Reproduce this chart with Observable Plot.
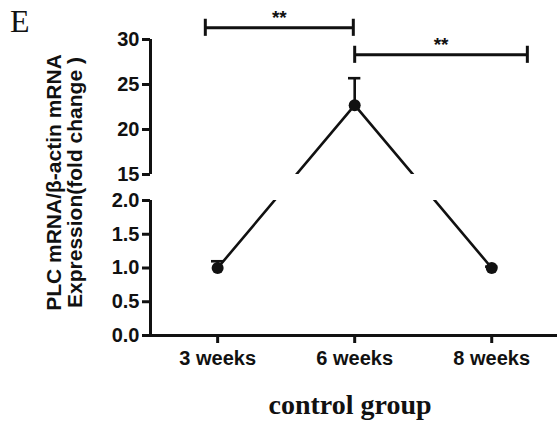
<!DOCTYPE html>
<html>
<head>
<meta charset="utf-8">
<script src="https://cdn.jsdelivr.net/npm/d3@7"></script>
<script src="https://cdn.jsdelivr.net/npm/@observablehq/plot@0.6"></script>
<style>
  html, body { margin: 0; padding: 0; background: #fff; }
  #figure { position: relative; width: 557px; height: 425px; overflow: hidden; }
  #panel-letter {
    position: absolute; left: 10px; top: 5px;
    font: 32px/32px "Liberation Serif", "Times New Roman", serif; color: #111;
  }
  #group-label {
    margin: 11px 0 0 150px; width: 400px; text-align: center;
    font: bold 28px/28px "Liberation Serif", "Times New Roman", serif; color: #111;
  }
</style>
</head>
<body>
<div id="figure">
  <div id="panel-letter">E</div>
  <div id="chart"></div>
  <div id="group-label">control group</div>
</div>
<script>
// PLC mRNA expression (relative to β-actin) in the control group
const categories = ["3 weeks", "6 weeks", "8 weeks"];
const means = [1.0, 22.7, 1.0];
const sems = [0.1, 3.0, 0.02];

// broken y axis: lower panel 0–2, upper panel 15–30
const lowerPanel = [0, 2];
const upperPanel = [15, 30];
const yTicks = [0, 0.5, 1, 1.5, 2, 15, 20, 25, 30];

// significance brackets (x in category index units, y in data units)
const bracketStarts = [-0.09, 1.0];
const bracketEnds = [0.99, 2.26];
const bracketLevels = [31.3, 28.3];
const bracketLabels = ["**", "**"];

const yLabel = "PLC mRNA/β-actin mRNA\nExpression(fold change )";

const points = categories.map((c, i) => ({i, category: c, mean: means[i], sem: sems[i]}));
const brackets = bracketLabels.map((label, k) => ({
  x1: bracketStarts[k], x2: bracketEnds[k], y: bracketLevels[k], label
}));
const panels = [lowerPanel, upperPanel].map(([lo, hi]) => ({lo, hi}));

const width = 557, height = 380;
const marginTop = 39, marginBottom = 45, marginLeft = 150, marginRight = 0;
const frameBottom = height - marginBottom;   // pixel of 0
const panelPx = 135;                         // height of each panel
const gapPx = 26;                            // height of the axis break
const yRange = [frameBottom, frameBottom - panelPx, frameBottom - panelPx - gapPx, marginTop];

const xDomain = [-0.49, 2.48];
const ink = "#111";
const capHalf = 0.045;      // error-bar cap half-width, category units
const bracketTick = 0.95;   // bracket end-tick half-height, data units

const chart = Plot.plot({
  width, height, marginTop, marginBottom, marginLeft, marginRight,
  style: {
    fontFamily: "'Liberation Sans', Arial, sans-serif",
    fontWeight: "bold",
    color: ink,
    background: "white",
    overflow: "visible"
  },
  x: {type: "linear", domain: xDomain},
  y: {type: "linear", domain: [lowerPanel[0], lowerPanel[1], upperPanel[0], upperPanel[1]], range: yRange},
  marks: [
    Plot.line(points, {x: "i", y: "mean", stroke: ink, strokeWidth: 2.6}),
    // blank out the break between the two panels
    Plot.rect([{lo: lowerPanel[1], hi: upperPanel[0]}], {
      x1: xDomain[0] + 0.03, x2: xDomain[1], y1: "lo", y2: "hi", fill: "white"
    }),
    Plot.ruleX(points, {x: "i", y1: "mean", y2: d => d.mean + d.sem, stroke: ink, strokeWidth: 2.6}),
    Plot.ruleY(points, {
      y: d => d.mean + d.sem, x1: d => d.i - capHalf, x2: d => d.i + capHalf,
      stroke: ink, strokeWidth: 2.6
    }),
    Plot.dot(points, {x: "i", y: "mean", r: 6, fill: ink}),

    // axes
    Plot.ruleY([0], {stroke: ink, strokeWidth: 3}),
    Plot.ruleX(panels, {x: xDomain[0], y1: "lo", y2: "hi", stroke: ink, strokeWidth: 3}),
    Plot.axisY({
      ticks: yTicks, label: null, tickSize: 8, tickPadding: 3, strokeWidth: 3,
      tickFormat: v => v < 10 ? v.toFixed(1) : String(v),
      fontSize: 20, fontWeight: "bold"
    }),
    Plot.axisX({
      ticks: categories.map((c, i) => i), label: null, tickSize: 8, tickPadding: 7, strokeWidth: 3,
      tickFormat: i => categories[i], fontSize: 20, fontWeight: "bold"
    }),

    // significance brackets
    Plot.ruleY(brackets, {y: "y", x1: "x1", x2: "x2", stroke: ink, strokeWidth: 3}),
    Plot.ruleX(brackets, {x: "x1", y1: d => d.y - bracketTick, y2: d => d.y + bracketTick, stroke: ink, strokeWidth: 3}),
    Plot.ruleX(brackets, {x: "x2", y1: d => d.y - bracketTick, y2: d => d.y + bracketTick, stroke: ink, strokeWidth: 3}),
    Plot.text(brackets, {x: d => (d.x1 + d.x2) / 2, y: "y", text: "label", dy: -10, fontSize: 19, fontWeight: "bold", fill: ink}),

    // y-axis title
    Plot.text([yLabel], {
      text: d => d, frameAnchor: "left", textAnchor: "middle", lineAnchor: "middle",
      dx: -86, dy: -5, rotate: -90,
      fontSize: 21, lineHeight: 1, fontWeight: "bold", fill: ink
    })
  ]
});

document.getElementById("chart").appendChild(chart);
</script>
</body>
</html>
